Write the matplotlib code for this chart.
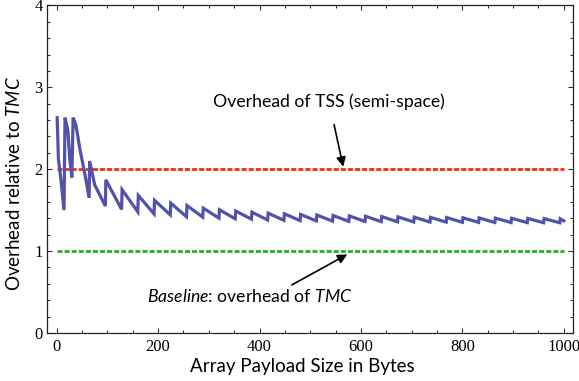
import matplotlib
matplotlib.use("Agg")
import matplotlib.pyplot as plt
from matplotlib.ticker import MultipleLocator

plt.rcParams['mathtext.fontset'] = 'custom'
plt.rcParams['mathtext.rm'] = 'Lato'
plt.rcParams['mathtext.it'] = 'Lato:italic'

# ---- data ----
early_x = [1, 3.5, 8.5, 14.5, 16.5, 22, 26, 30, 32.5, 38, 46, 56, 64, 65, 75, 96]
early_y = [2.63, 2.12, 1.87, 1.50, 2.63, 2.48, 2.12, 1.90, 2.63, 2.54, 2.24, 1.93, 1.65, 2.10, 1.81, 1.55]

jump_x = [96, 128, 160, 192, 224, 256, 288, 320, 352, 384, 416, 448, 480, 512,
          544, 576, 608, 640, 672, 704, 736, 768, 800, 832, 864, 896, 928, 960, 992]
peak_y = [1.87, 1.75, 1.68, 1.62, 1.586, 1.557, 1.525, 1.505, 1.49, 1.476, 1.464,
          1.456, 1.448, 1.441, 1.435, 1.43, 1.426, 1.422, 1.418, 1.415, 1.412,
          1.41, 1.407, 1.405, 1.403, 1.401, 1.399, 1.397, 1.395]
trough_y = [1.51, 1.48, 1.455, 1.443, 1.42, 1.415, 1.403, 1.395, 1.39, 1.38, 1.376,
            1.372, 1.369, 1.366, 1.364, 1.362, 1.36, 1.358, 1.356, 1.355, 1.354,
            1.352, 1.351, 1.35, 1.349, 1.348, 1.347, 1.346, 1.37]
x_end = 1000

tss_level = 2.0
baseline_level = 1.0
x_min_data, x_max_data = 0, 1000

xlabel = "Array Payload Size in Bytes"
ylabel = r"Overhead relative to $\mathit{TMC}$"
tss_text = "Overhead of TSS (semi-space)"
base_text = r"$\mathit{Baseline}$: overhead of $\mathit{TMC}$"

# build polyline
xs = list(early_x)
ys = list(early_y)
for i, jx in enumerate(jump_x):
    xs.append(jx + 1)
    ys.append(peak_y[i])
    nxt = jump_x[i + 1] if i + 1 < len(jump_x) else x_end
    xs.append(nxt)
    ys.append(trough_y[i])

fig = plt.figure(figsize=(5.79, 3.81), dpi=100)
ax = fig.add_axes([0.0812, 0.126, 0.9084, 0.8596])

ax.hlines(tss_level, x_min_data, x_max_data, colors='#ff2a00', linewidth=2.0,
          linestyles=(0, (1.8, 0.75)), zorder=2)
ax.hlines(baseline_level, x_min_data, x_max_data, colors='#20b020', linewidth=2.0,
          linestyles=(0, (1.8, 0.75)), zorder=2)
ax.plot(xs, ys, color='#5252aa', linewidth=2.3, solid_joinstyle='miter', zorder=3)

ax.set_xlim(-19, 1018)
ax.set_ylim(0, 4)
ax.xaxis.set_major_locator(MultipleLocator(200))
ax.xaxis.set_minor_locator(MultipleLocator(50))
ax.yaxis.set_major_locator(MultipleLocator(1))
ax.yaxis.set_minor_locator(MultipleLocator(0.2))
ax.tick_params(which='both', direction='in', top=True, right=True, color='#333333', width=0.8)
ax.tick_params(which='major', length=3.5)
ax.tick_params(which='minor', length=2.2)
for lab in ax.get_xticklabels() + ax.get_yticklabels():
    lab.set_fontfamily('Liberation Serif')
    lab.set_fontsize(12)
ax.tick_params(axis='x', pad=4)
ax.tick_params(axis='y', pad=3)
for s in ax.spines.values():
    s.set_linewidth(0.9)
    s.set_color('#222222')

ax.set_xlabel(xlabel, fontfamily='Lato', fontsize=13.5)
ax.set_ylabel(ylabel, fontfamily='Lato', fontsize=13.5)
ax.xaxis.set_label_coords(0.485, -0.076, transform=ax.transAxes)
ax.yaxis.set_label_coords(-0.046, 0.455, transform=ax.transAxes)

ax.annotate(tss_text, xy=(565, 2.03), xytext=(537, 2.83), fontfamily='Lato', fontsize=12.7,
            ha='center', va='center',
            arrowprops=dict(arrowstyle='-|>', color='black', lw=1.2,
                            mutation_scale=14, shrinkA=9, shrinkB=0))
ax.annotate(base_text, xy=(573, 0.96), xytext=(381, 0.45), fontfamily='Lato', fontsize=12.7,
            ha='center', va='center',
            arrowprops=dict(arrowstyle='-|>', color='black', lw=1.2,
                            mutation_scale=14, shrinkA=0, shrinkB=0,
                            relpos=(0.68, 1.0)))

fig.savefig('out.png', dpi=100)
